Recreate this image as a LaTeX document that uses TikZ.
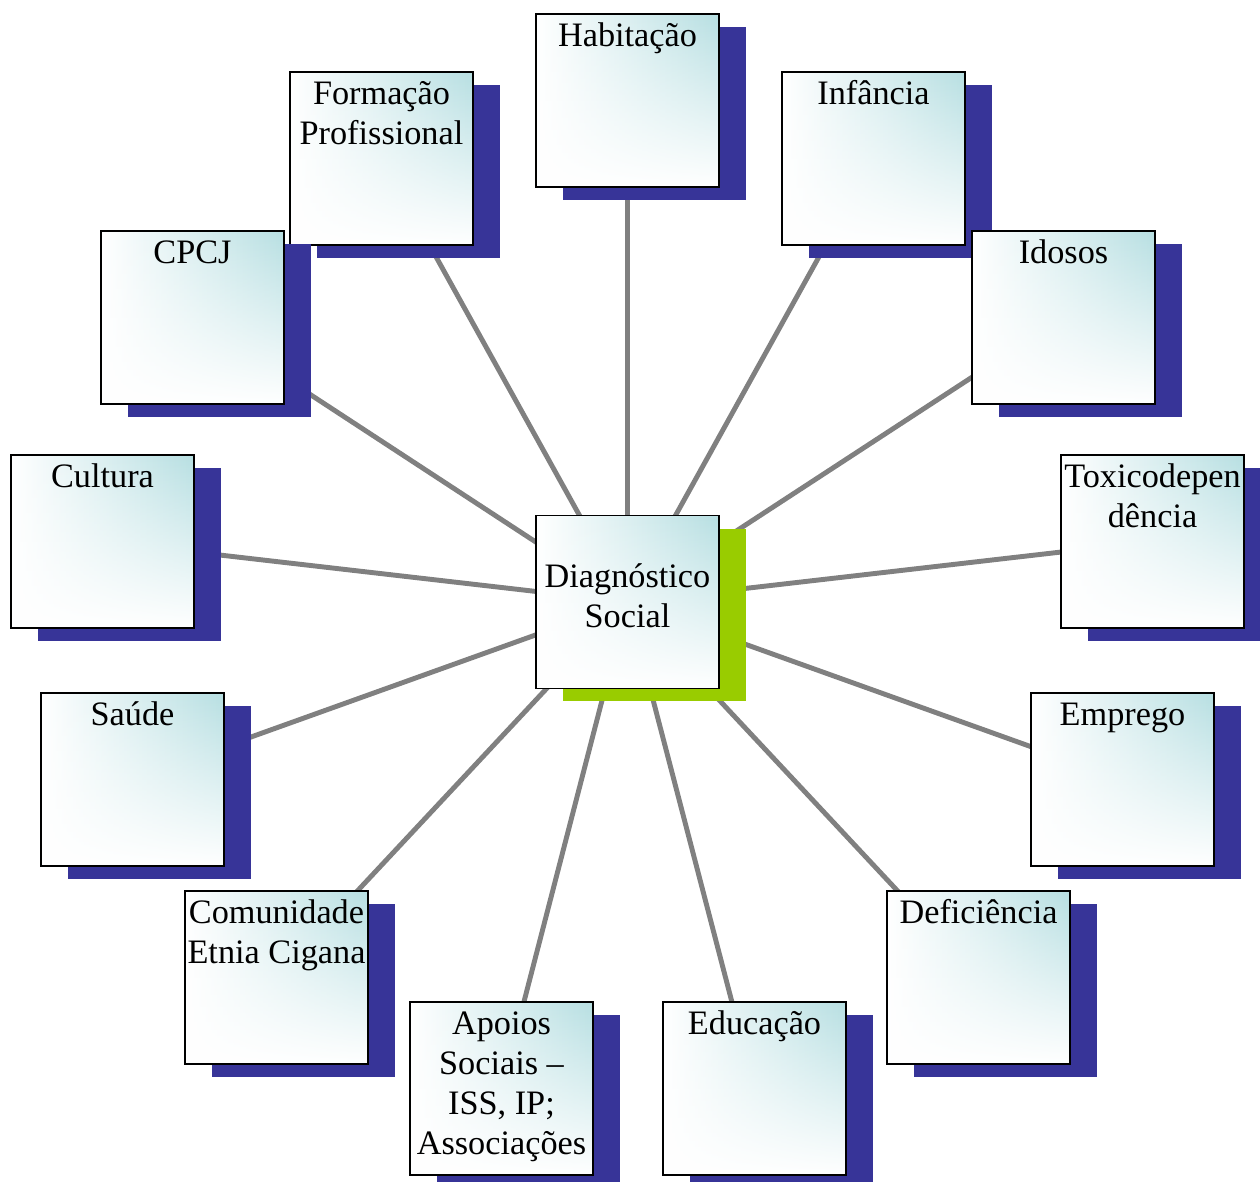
\documentclass[tikz,border=0pt]{standalone}
\usepackage{fontspec}
\setmainfont{Liberation Serif}
\usetikzlibrary{shadows,fadings}

\definecolor{boxteal}{RGB}{183,223,226}
\definecolor{shadowblue}{RGB}{55,52,152}
\definecolor{shadowgreen}{RGB}{153,204,0}
\definecolor{spokegray}{RGB}{128,128,128}

\pgfdeclarelayer{background}
\pgfsetlayers{background,main}

\newcommand{\topiclabel}[1]{\parbox[c][3.46cm][t]{3.66cm}{\centering\rule{0pt}{18.3pt}#1}}

\tikzset{
    topic/.style={draw=black, line width=1.1pt,
        left color=white, right color=boxteal,
        path picture={\fill[white, path fading=north]
            (path picture bounding box.south west) rectangle
            (path picture bounding box.north east);},
        minimum width=3.66cm, minimum height=3.46cm,
        inner sep=0pt, font=\fontsize{19.5pt}{22.8pt}\selectfont,
        drop shadow={shadow xshift=0.54cm, shadow yshift=-0.26cm,
            fill=shadowblue, opacity=1}},
    hub/.style={topic, align=center,
        drop shadow={shadow xshift=0.54cm, shadow yshift=-0.26cm,
            fill=shadowgreen, opacity=1}},
    spoke/.style={spokegray, line width=2.8pt}
}

\begin{document}
\begin{tikzpicture}[x=0.02cm, y=-0.02cm]
    \useasboundingbox (0,0) rectangle (1260,1182);
    % Nodes
    \node[hub] (diag) at (627.5,602) {Diagnóstico\\Social\strut};
    \node[topic] (hab) at (627.5,100.5) {\topiclabel{Habitação}};
    \node[topic] (form) at (381.5,158.5) {\topiclabel{Formação\\Profissional}};
    \node[topic] (inf) at (873.5,158.5) {\topiclabel{Infância}};
    \node[topic] (cpcj) at (192.5,317.5) {\topiclabel{CPCJ}};
    \node[topic] (idosos) at (1063.5,317.5) {\topiclabel{Idosos}};
    \node[topic] (cult) at (102.5,541.5) {\topiclabel{Cultura}};
    \node[topic] (toxi) at (1152.5,541.5) {\topiclabel{Toxicodepen\\dência}};
    \node[topic] (saude) at (132.5,779.5) {\topiclabel{Saúde}};
    \node[topic] (emprego) at (1122.5,779.5) {\topiclabel{Emprego}};
    \node[topic] (comun) at (276.5,977.5) {\topiclabel{Comunidade\\Etnia Cigana}};
    \node[topic] (defic) at (978.5,977.5) {\topiclabel{Deficiência}};
    \node[topic] (apoios) at (501.5,1088.5) {\topiclabel{Apoios\\Sociais --\\ISS, IP;\\Associações}};
    \node[topic] (educ) at (754.5,1088.5) {\topiclabel{Educação}};
    % Edges
    \begin{pgfonlayer}{background}
        \draw[spoke] (diag.center) -- (hab.center);
        \draw[spoke] (diag.center) -- (form.center);
        \draw[spoke] (diag.center) -- (inf.center);
        \draw[spoke] (diag.center) -- (cpcj.center);
        \draw[spoke] (diag.center) -- (idosos.center);
        \draw[spoke] (diag.center) -- (cult.center);
        \draw[spoke] (diag.center) -- (toxi.center);
        \draw[spoke] (diag.center) -- (saude.center);
        \draw[spoke] (diag.center) -- (emprego.center);
        \draw[spoke] (diag.center) -- (comun.center);
        \draw[spoke] (diag.center) -- (defic.center);
        \draw[spoke] (diag.center) -- (apoios.center);
        \draw[spoke] (diag.center) -- (educ.center);
    \end{pgfonlayer}
\end{tikzpicture}
\end{document}
